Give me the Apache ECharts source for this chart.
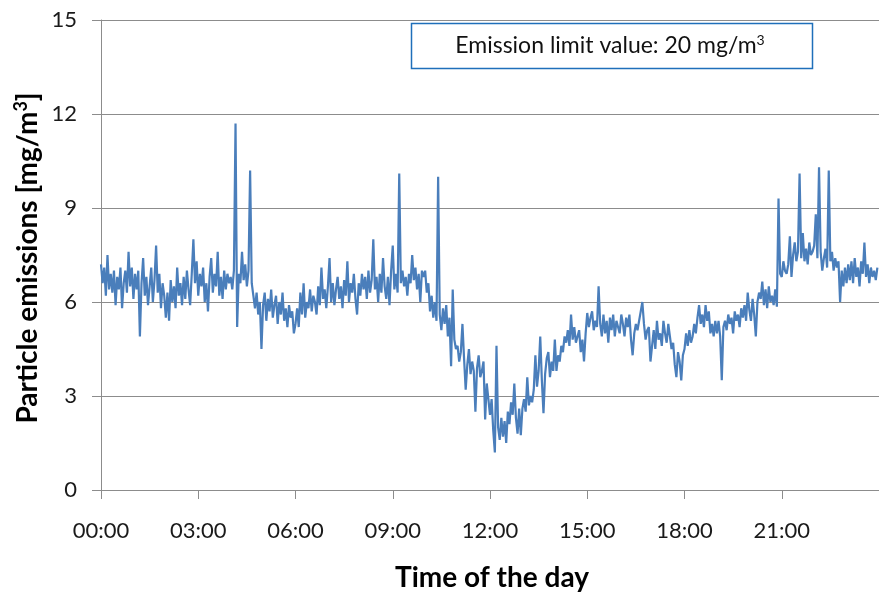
<!DOCTYPE html>
<html><head><meta charset="utf-8">
<script src="https://cdn.jsdelivr.net/npm/echarts@6/dist/echarts.min.js"></script>
<style>html,body{margin:0;padding:0;background:#fff}#c{width:879px;height:592px}</style>
</head><body><div id="c"></div>
<script>
// sampling step of the series, minutes
const STEP_MIN = 3;
// particle emissions [mg/m3], one row per hour (20 samples each, 3-minute steps)
const h00 = [7.2,6.6,7.1,6.2,7.5,6.4,6.9,6.3,7.0,5.9,6.8,6.4,7.1,5.8,6.6,7.0,6.3,7.6,6.5,7.1];
const h01 = [6.1,6.9,6.4,7.0,4.9,6.6,7.4,6.2,6.8,5.9,6.5,7.1,6.0,6.7,7.8,6.3,6.9,5.8,6.6,6.2];
const h02 = [5.5,6.3,5.4,6.7,6.0,6.5,5.8,7.1,6.2,6.6,5.9,6.8,6.1,7.0,6.4,5.9,6.9,8.0,6.6,7.3];
const h03 = [6.2,6.9,6.5,7.1,6.0,6.6,5.7,6.8,7.4,6.3,6.9,6.5,7.6,6.2,6.8,6.1,7.0,6.4,6.9,6.6];
const h04 = [6.8,6.4,7.0,11.7,5.2,6.9,6.6,7.6,6.7,7.2,6.5,7.0,10.2,6.6,6.2,5.8,6.3,5.6,6.0,4.5];
const h05 = [5.9,6.3,5.4,6.1,5.7,6.4,5.5,5.9,6.2,5.3,6.0,5.6,6.3,5.4,5.8,5.2,5.9,5.5,5.7,5.0];
const h06 = [5.3,5.8,5.2,6.3,5.6,6.6,5.5,6.0,5.8,6.4,5.7,6.2,6.0,5.6,6.5,5.9,7.1,6.1,6.4,5.8];
const h07 = [6.5,7.4,6.0,6.6,5.9,6.4,6.8,6.1,6.5,5.8,6.7,6.2,7.3,6.0,6.6,6.3,6.9,6.1,5.6,6.6];
const h08 = [6.2,6.9,6.4,6.8,6.1,7.0,6.3,6.7,8.0,6.4,6.8,6.0,6.9,6.3,7.4,6.5,6.1,6.8,5.9,7.0];
const h09 = [7.8,6.4,6.9,6.3,10.1,6.6,7.0,6.5,6.8,6.2,6.9,6.6,7.5,6.7,7.1,6.4,6.9,6.0,7.0,6.8];
const h10 = [7.0,6.3,6.6,5.7,6.2,5.5,6.0,5.4,10.0,5.6,5.1,5.8,5.3,5.9,4.9,5.5,3.95,6.4,4.8,4.5];
const h11 = [4.6,4.1,4.4,5.3,4.2,3.2,4.0,4.5,3.7,4.1,3.8,2.5,3.9,4.3,3.6,3.8,4.1,2.25,3.4,2.9];
const h12 = [2.4,2.9,1.9,1.2,4.6,2.0,1.6,2.3,1.7,2.2,1.5,2.5,2.1,2.8,2.4,3.4,2.3,1.8,2.6,1.75];
const h13 = [2.6,2.9,2.5,3.6,2.7,3.0,2.8,3.2,4.3,3.3,3.8,4.9,3.5,2.45,3.7,4.2,4.4,3.6,4.1,3.8];
const h14 = [4.8,3.8,4.3,4.1,4.6,4.4,4.9,4.7,5.1,4.6,5.6,4.8,5.2,4.7,4.9,5.1,4.4,4.8,4.1,5.0];
const h15 = [5.65,5.2,5.5,5.7,5.1,5.4,5.2,6.5,5.3,4.9,5.6,5.0,5.4,4.7,5.5,5.1,5.6,4.9,5.4,5.2];
const h16 = [5.0,5.6,5.3,4.9,5.5,5.2,5.6,4.8,4.3,5.0,5.3,5.1,5.4,5.7,6.0,5.3,4.8,5.1,5.2,4.1];
const h17 = [4.6,5.1,4.5,5.4,4.8,5.0,4.6,5.4,5.0,4.7,5.3,4.9,4.5,4.7,4.0,3.6,4.4,4.1,3.5,4.3];
const h18 = [4.5,5.0,4.6,5.1,4.7,4.9,5.3,5.0,5.5,5.9,5.3,5.6,5.2,5.9,5.4,5.7,5.0,5.3,4.9,5.4];
const h19 = [5.0,5.4,4.9,3.5,5.2,5.4,5.1,5.6,5.3,5.5,5.0,5.7,5.4,5.6,5.2,5.8,5.5,5.9,5.4,6.3];
const h20 = [5.75,5.4,6.1,5.6,4.9,6.0,6.3,6.1,6.65,5.9,6.4,5.8,6.5,6.0,6.2,5.9,6.4,5.85,9.3,6.9];
const h21 = [6.8,7.3,7.0,6.9,7.2,8.1,6.8,7.5,7.9,7.3,7.6,10.1,7.4,8.2,7.3,7.7,7.2,7.9,7.5,7.6];
const h22 = [7.8,8.8,7.4,10.3,7.6,7.0,7.4,7.7,7.1,10.2,7.3,7.6,7.0,7.4,7.1,7.3,6.0,7.0,6.5,7.1];
const h23 = [6.6,7.2,6.7,7.3,6.6,7.4,6.8,7.1,6.5,7.3,6.9,7.9,6.8,7.2,6.6,7.1,6.8,7.0,6.7,7.1];
// axis ticks
const xTickHours = [0,3,6,9,12,15,18,21,24];
const yTicks = [0,3,6,9,12,15];

const values = [].concat(h00,h01,h02,h03,h04,h05,h06,h07,h08,h09,h10,h11,
  h12,h13,h14,h15,h16,h17,h18,h19,h20,h21,h22,h23);
const data = values.map((v,i)=>[i*STEP_MIN, v]);

const FONT = 'Lato, "Open Sans", sans-serif';
const chart = echarts.init(document.getElementById('c'), null, {renderer:'canvas'});
chart.setOption({
  animation:false,
  backgroundColor:'#ffffff',
  grid:{left:101, top:20, bottom:102, right:-8, containLabel:false},
  xAxis:{
    type:'value', min:xTickHours[0]*60, max:xTickHours[xTickHours.length-1]*60, interval:180,
    axisLine:{show:true, lineStyle:{color:'#8c8c8c', width:1}},
    axisTick:{show:true, length:9, lineStyle:{color:'#8c8c8c'}},
    splitLine:{show:false},
    axisLabel:{show:true, margin:30, color:'#1a1a1a', fontSize:22, fontFamily:FONT, showMaxLabel:false,
      formatter:(v)=>{const h=Math.round(v/60);return (h<10?'0':'')+h+':00';}}
  },
  yAxis:{
    type:'value', min:yTicks[0], max:yTicks[yTicks.length-1], interval:3,
    axisLine:{show:true, lineStyle:{color:'#8c8c8c', width:1}},
    axisTick:{show:true, length:9, lineStyle:{color:'#8c8c8c'}},
    splitLine:{show:true, lineStyle:{color:'#8c8c8c', width:1}},
    axisLabel:{show:true, margin:24, color:'#1a1a1a', fontSize:22, fontFamily:FONT}
  },
  series:[{
    type:'line', data:data, showSymbol:false, symbol:'none',
    lineStyle:{color:'#4a7ebb', width:2.2}, clip:true
  }],
  graphic:[
    {type:'rect', shape:{x:411.5, y:23.5, width:401, height:45},
     style:{fill:'#ffffff', stroke:'#1f6fba', lineWidth:1.5}, z:100},
    {type:'text', x:610, y:46, z:101,
     style:{text:'{t|Emission limit value: 20 mg/m}{s|3}', align:'center', verticalAlign:'middle',
       rich:{t:{fontSize:23, fontFamily:FONT, fill:'#111'},
             s:{fontSize:14, fontFamily:FONT, fill:'#111', padding:[0,0,12,0]}}}},
    {type:'text', x:28, y:258, rotation:Math.PI/2, z:101,
     style:{text:'{t|Particle emissions [mg/m}{s|3}{t|]}', align:'center', verticalAlign:'middle',
       rich:{t:{fontSize:28, fontWeight:'bold', fontFamily:FONT, fill:'#000'},
             s:{fontSize:18, fontWeight:'bold', fontFamily:FONT, fill:'#000', padding:[0,0,14,0]}}}},
    {type:'text', x:492, y:578, z:101,
     style:{text:'Time of the day', align:'center', verticalAlign:'middle',
       fontSize:28, fontWeight:'bold', fontFamily:FONT, fill:'#000'}}
  ]
});
</script>
</body></html>
